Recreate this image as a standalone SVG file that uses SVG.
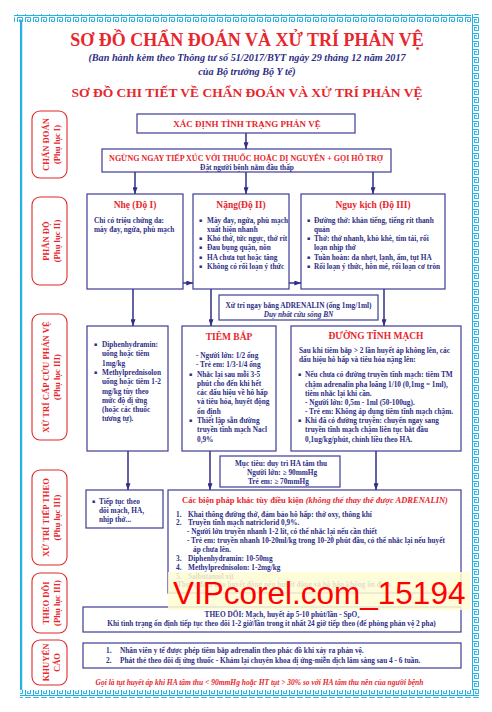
<svg xmlns="http://www.w3.org/2000/svg" width="492" height="712" viewBox="0 0 492 712">
<defs>
<style>
.t{font-family:"Liberation Serif","Times New Roman",serif;font-weight:bold;font-size:7.3px;fill:#2e2e86}
.r{fill:#e8262d}
.i{font-style:italic}
.m{text-anchor:middle}
.box{fill:#fff;stroke:#3c3c96;stroke-width:1.2}
.lab{fill:#fff;stroke:#e02a2a;stroke-width:1.1}
.lt{font-family:"Liberation Serif","Times New Roman",serif;font-weight:bold;font-size:8.6px;fill:#e8262d;text-anchor:middle}
.bul{font-family:"DejaVu Sans",sans-serif;font-size:5px;fill:#2e2e86}
.cn{stroke:#2e2e86;stroke-width:1.5;fill:none}
</style>
<marker id="ah" viewBox="0 0 8 6" refX="8" refY="3" markerWidth="7" markerHeight="5" markerUnits="userSpaceOnUse" orient="auto">
<path d="M0,0 L8,3 L0,6 z" fill="#2e2e86"/>
</marker>
<marker id="oh" viewBox="0 0 8 8" refX="7" refY="4" markerWidth="6" markerHeight="6" markerUnits="userSpaceOnUse" orient="auto">
<path d="M0,0 L7,4 L0,8" fill="none" stroke="#2e2e86" stroke-width="1.2"/>
</marker>
<pattern id="gk" x="0" y="0" width="8" height="8" patternUnits="userSpaceOnUse">
<rect width="8" height="8" fill="#fff"/>
<path d="M0,7.5 H8 M1.5,7.5 V1.5 H6.5 V5.5 H3.5 V3.5 H4.5" fill="none" stroke="#23b2e6" stroke-width="1"/>
</pattern>
<pattern id="gkv" x="0" y="0" width="8" height="8" patternUnits="userSpaceOnUse" patternTransform="rotate(90)">
<rect width="8" height="8" fill="#fff"/>
<path d="M0,7.5 H8 M1.5,7.5 V1.5 H6.5 V5.5 H3.5 V3.5 H4.5" fill="none" stroke="#23b2e6" stroke-width="1"/>
</pattern>
</defs>

<rect width="492" height="712" fill="#fff"/>

<g id="frame">
<rect x="14" y="14" width="465" height="8" fill="url(#gk)"/>
<rect x="20" y="20" width="2.2" height="672" fill="#23b2e6"/>
<rect x="471" y="14" width="8" height="684" fill="url(#gkv)"/>
<rect x="20" y="690" width="459" height="8" fill="url(#gk)"/>
</g>

<g id="heading">
<text class="t r m" x="247" y="46" style="font-size:18px">SƠ ĐỒ CHẨN ĐOÁN VÀ XỬ TRÍ PHẢN VỆ</text>
<text class="t i m" x="247" y="60.5" style="font-size:10.2px">(Ban hành kèm theo Thông tư số 51/2017/BYT ngày 29 tháng 12 năm 2017</text>
<text class="t i m" x="247" y="75" style="font-size:10.2px">của Bộ trưởng Bộ Y tế)</text>
<text class="t r m" x="247" y="96.5" style="font-size:13.5px">SƠ ĐỒ CHI TIẾT VỀ CHẨN ĐOÁN VÀ XỬ TRÍ PHẢN VỆ</text>
</g>

<g id="label-chandoan">
<rect class="lab" x="32" y="111" width="35" height="67" rx="8"/>
<text class="lt" transform="translate(48.5,144.5) rotate(-90)">CHẨN ĐOÁN</text>
<text class="lt" transform="translate(60,144.5) rotate(-90)">(Phụ lục I)</text>
</g>
<g id="label-phando">
<rect class="lab" x="32" y="197" width="35" height="88" rx="8"/>
<text class="lt" transform="translate(48.5,241) rotate(-90)">PHÂN ĐỘ</text>
<text class="lt" transform="translate(60,241) rotate(-90)">(Phụ lục II)</text>
</g>
<g id="label-capcuu">
<rect class="lab" x="32" y="314" width="35" height="126" rx="8"/>
<text class="lt" transform="translate(48.5,377) rotate(-90)">XỬ TRÍ CẤP CỨU PHẢN VỆ</text>
<text class="lt" transform="translate(60,377) rotate(-90)">(Phụ lục III)</text>
</g>
<g id="label-tieptheo">
<rect class="lab" x="32" y="470" width="35" height="95" rx="8"/>
<text class="lt" transform="translate(48.5,517.5) rotate(-90)">XỬ TRÍ TIẾP THEO</text>
<text class="lt" transform="translate(60,517.5) rotate(-90)">(Phụ lục III)</text>
</g>
<g id="label-theodoi">
<rect class="lab" x="32" y="573" width="35" height="60" rx="8"/>
<text class="lt" transform="translate(48.5,603) rotate(-90)">THEO DÕI</text>
<text class="lt" transform="translate(60,603) rotate(-90)">(Phụ lục III)</text>
</g>
<g id="label-khuyencao">
<rect class="lab" x="32" y="640" width="35" height="45" rx="8"/>
<text class="lt" transform="translate(48.5,662.5) rotate(-90)">KHUYẾN</text>
<text class="lt" transform="translate(60,662.5) rotate(-90)">CÁO</text>
</g>

<g id="connectors">
<line class="cn" x1="246" y1="133" x2="246" y2="149" marker-end="url(#ah)"/>
<line class="cn" x1="135" y1="172" x2="135" y2="194" marker-end="url(#ah)"/>
<line class="cn" x1="246" y1="172" x2="246" y2="194" marker-end="url(#ah)"/>
<line class="cn" x1="373" y1="172" x2="373" y2="194" marker-end="url(#ah)"/>
<line class="cn" x1="183" y1="283" x2="193" y2="283" marker-end="url(#ah)"/>
<line class="cn" x1="193" y1="283" x2="289" y2="283" stroke-dasharray="4,3" stroke-width="1" marker-end="url(#oh)"/>
<line class="cn" x1="289" y1="283" x2="301" y2="283" marker-end="url(#ah)"/>
<line class="cn" x1="133" y1="289" x2="133" y2="326" marker-end="url(#ah)"/>
<line class="cn" x1="211" y1="289" x2="211" y2="326" marker-end="url(#ah)"/>
<line class="cn" x1="384" y1="289" x2="384" y2="326" marker-end="url(#ah)"/>
<line class="cn" x1="128" y1="451" x2="128" y2="490" marker-end="url(#ah)"/>
<line class="cn" x1="210" y1="451" x2="210" y2="490" marker-end="url(#ah)"/>
<line class="cn" x1="376" y1="451" x2="376" y2="490" marker-end="url(#ah)"/>
</g>

<g id="xacdinh">
<rect class="box" x="137" y="114" width="218" height="19"/>
<text class="t r m" x="247" y="127" style="font-size:9px">XÁC ĐỊNH TÌNH TRẠNG PHẢN VỆ</text>
</g>

<g id="ngung">
<rect class="box" x="102" y="149" width="289" height="23"/>
<text class="t r m" x="246" y="160.5" style="font-size:8px">NGỪNG NGAY TIẾP XÚC VỚI THUỐC HOẶC DỊ NGUYÊN + GỌI HỖ TRỢ</text>
<text class="t m" x="247" y="169.5">Đặt người bệnh nằm đầu thấp</text>
</g>

<g id="nhe">
<rect class="box" x="87" y="194" width="96" height="95"/>
<text class="t r m" x="135" y="208" style="font-size:9.5px">Nhẹ (Độ I)</text>
<text class="t" x="94" y="222.5">Chỉ có triệu chứng da:</text>
<text class="t" x="94" y="231.5">mày đay, ngứa, phù mạch</text>
</g>

<g id="nang">
<rect class="box" x="193" y="194" width="96" height="95"/>
<text class="t r m" x="241" y="208" style="font-size:9.5px">Nặng(Độ II)</text>
<text class="bul" x="199" y="221.5">▪</text>
<text class="t" x="207" y="222.5">Mày đay, ngứa, phù mạch</text>
<text class="t" x="207" y="231.5">xuất hiện nhanh</text>
<text class="bul" x="199" y="240">▪</text>
<text class="t" x="207" y="241">Khó thở, tức ngực, thở rít</text>
<text class="bul" x="199" y="249">▪</text>
<text class="t" x="207" y="250">Đau bụng quặn, nôn</text>
<text class="bul" x="199" y="258.5">▪</text>
<text class="t" x="207" y="259.5">HA chưa tụt hoặc tăng</text>
<text class="bul" x="199" y="267.5">▪</text>
<text class="t" x="207" y="268.5">Không có rối loạn ý thức</text>
</g>

<g id="nguyky">
<rect class="box" x="301" y="194" width="144" height="95"/>
<text class="t r m" x="373" y="208" style="font-size:9.5px">Nguy kịch (Độ III)</text>
<text class="bul" x="307" y="221.5">▪</text>
<text class="t" x="314" y="222.5">Đường thở: khàn tiếng, tiếng rít thanh</text>
<text class="t" x="314" y="231.5">quản</text>
<text class="bul" x="307" y="240">▪</text>
<text class="t" x="314" y="241">Thở: thở nhanh, khò khè, tím tái, rối</text>
<text class="t" x="314" y="250">loạn nhịp thở</text>
<text class="bul" x="307" y="258.5">▪</text>
<text class="t" x="314" y="259.5">Tuần hoàn: da nhợt, lạnh, ẩm, tụt HA</text>
<text class="bul" x="307" y="267.5">▪</text>
<text class="t" x="314" y="268.5">Rối loạn ý thức, hôn mê, rối loạn cơ tròn</text>
</g>

<g id="adrenalin">
<rect class="box" x="219" y="295" width="159" height="25"/>
<text class="t m" x="298.5" y="307.5">Xử trí ngay bằng ADRENALIN (ống 1mg/1ml)</text>
<text class="t i m" x="298.5" y="316.5">Duy nhất cứu sống BN</text>
</g>

<g id="diphen">
<rect class="box" x="87" y="326" width="81" height="125"/>
<text class="bul" x="94" y="346">▪</text>
<text class="t" x="102" y="347">Diphenhydramin:</text>
<text class="t" x="102" y="356.3">uống hoặc tiêm</text>
<text class="t" x="102" y="365.6">1mg/kg</text>
<text class="bul" x="94" y="373.9">▪</text>
<text class="t" x="102" y="374.9">Methylprednisolon</text>
<text class="t" x="102" y="384.2">uống hoặc tiêm 1-2</text>
<text class="t" x="102" y="393.5">mg/kg tùy theo</text>
<text class="t" x="102" y="402.8">mức độ dị ứng</text>
<text class="t" x="102" y="412.1">(hoặc các thuốc</text>
<text class="t" x="102" y="421.4">tương tự).</text>
</g>

<g id="tiembap">
<rect class="box" x="182" y="326" width="94" height="125"/>
<text class="t r m" x="229" y="340" style="font-size:9.5px">TIÊM BẮP</text>
<text class="t" x="196" y="358">- Người lớn: 1/2 ống</text>
<text class="t" x="196" y="367.3">- Trẻ em: 1/3-1/4 ống</text>
<text class="bul" x="189" y="375.5">▪</text>
<text class="t" x="197" y="376.5">Nhắc lại sau mỗi 3-5</text>
<text class="t" x="197" y="385.8">phút cho đến khi hết</text>
<text class="t" x="197" y="395.1">các dấu hiệu về hô hấp</text>
<text class="t" x="197" y="404.4">và tiêu hóa, huyết động</text>
<text class="t" x="197" y="413.7">ổn định</text>
<text class="bul" x="189" y="422">▪</text>
<text class="t" x="197" y="423">Thiết lập sẵn đường</text>
<text class="t" x="197" y="432.3">truyền tĩnh mạch Nacl</text>
<text class="t" x="197" y="441.6">0,9%</text>
</g>

<g id="tinhmach">
<rect class="box" x="291" y="326" width="170" height="125"/>
<text class="t r m" x="376" y="338.5" style="font-size:9.5px">ĐƯỜNG TĨNH MẠCH</text>
<text class="t" x="299" y="352.5">Sau khi tiêm bắp &gt; 2 lần huyết áp không lên, các</text>
<text class="t" x="299" y="361.5">dấu hiệu hô hấp và tiêu hóa nặng lên:</text>
<text class="bul" x="298" y="376">▪</text>
<text class="t" x="305" y="377">Nếu chưa có đường truyền tĩnh mạch: tiêm TM</text>
<text class="t" x="305" y="386.5">chậm adrenalin pha loãng 1/10 (0,1mg = 1ml),</text>
<text class="t" x="305" y="395.5">tiêm nhắc lại khi cần.</text>
<text class="t" x="305" y="404.7">- Người lớn: 0,5m - 1ml (50-100ug).</text>
<text class="t" x="305" y="414">- Trẻ em: Không áp dụng tiêm tĩnh mạch chậm.</text>
<text class="bul" x="298" y="422">▪</text>
<text class="t" x="305" y="423">Khi đã có đường truyền: chuyển ngay sang</text>
<text class="t" x="305" y="432.3">truyền tĩnh mạch chậm liên tục bắt đầu</text>
<text class="t" x="305" y="441.5">0,1ug/kg/phút, chỉnh liều theo HA.</text>
</g>

<g id="muctieu">
<rect class="box" x="220" y="456" width="120" height="31"/>
<text class="t m" x="281" y="465.5">Mục tiêu: duy trì HA tâm thu</text>
<text class="t" x="247" y="474.5">Người lớn: ≥ 90mmHg</text>
<text class="t" x="248" y="483.5">Trẻ em: ≥ 70mmHg</text>
</g>

<g id="tieptuc">
<rect class="box" x="86" y="490" width="77" height="38"/>
<text class="bul" x="92" y="502.5">▪</text>
<text class="t" x="99" y="503.5">Tiếp tục theo</text>
<text class="t" x="99" y="512.5">dõi mạch, HA,</text>
<text class="t" x="99" y="521.5">nhịp thở...</text>
</g>

<g id="bienphap">
<rect class="box" x="168" y="490" width="293" height="103"/>
<text class="t r m" x="315" y="503" style="font-size:8.5px">Các biện pháp khác tùy điều kiện <tspan style="font-style:italic">(không thể thay thế được ADRENALIN)</tspan></text>
<text class="t" x="176" y="516.5">1.</text><text class="t" x="188" y="516.5">Khai thông đường thở, đảm bảo hô hấp: thở oxy, thông khí</text>
<text class="t" x="176" y="525.3">2.</text><text class="t" x="188" y="525.3">Truyền tĩnh mạch natriclorid 0,9%.</text>
<text class="t" x="187" y="534">- Người lớn truyền nhanh 1-2 lít, có thể nhắc lại nếu cần thiết</text>
<text class="t" x="187" y="542.8">- Trẻ em: truyền nhanh 10-20ml/kg trong 10-20 phút đầu, có thể nhắc lại nếu huyết</text>
<text class="t" x="193" y="551.5">áp chưa lên.</text>
<text class="t" x="176" y="561">3.</text><text class="t" x="188" y="561">Diphenhydramin: 10-50mg</text>
<text class="t" x="176" y="569.8">4.</text><text class="t" x="188" y="569.8">Methylprednisolon: 1-2mg/kg</text>
<text class="t" x="176" y="578.5">5.</text><text class="t" x="188" y="578.5">Salbutamol xịt</text>
<text class="t" x="177" y="587.3">Thuốc đảm bảo huyết động nếu huyết động và hô hấp không ổn định</text>
</g>

<g id="theodoi">
<rect class="box" x="83" y="607" width="378" height="25"/>
<text class="t m" x="282" y="616.5">THEO DÕI: Mạch, huyết áp 5-10 phút/lần - SpO₂</text>
<text class="t m" x="271.5" y="626">Khi tình trạng ổn định tiếp tục theo dõi 1-2 giờ/lần trong ít nhất 24 giờ tiếp theo (để phòng phản vệ 2 pha)</text>
</g>

<g id="khuyencao">
<rect class="box" x="83" y="643" width="378" height="25"/>
<text class="t" x="106" y="653">1.</text><text class="t" x="120" y="653">Nhân viên y tế được phép tiêm bắp adrenalin theo phác đồ khi xảy ra phản vệ.</text>
<text class="t" x="106" y="662.5">2.</text><text class="t" x="120" y="662.5">Phát thẻ theo dõi dị ứng thuốc - Khám lại chuyên khoa dị ứng-miễn dịch lâm sàng sau 4 - 6 tuần.</text>
</g>

<g id="footnote">
<text class="t r i m" x="259.5" y="685" style="font-size:7.5px">Gọi là tụt huyết áp khi HA tâm thu &lt; 90mmHg hoặc HT tụt &gt; 30% so với HA tâm thu nền của người bệnh</text>
</g>

<g id="watermark">
<rect x="168" y="572" width="302" height="38" fill="#fffbd4" opacity="0.85"/>
<text x="173" y="604" style="font-family:'Liberation Sans',Arial,sans-serif;font-size:31.5px;fill:#ff0000">VIPcorel.com_15194</text>
</g>
</svg>
